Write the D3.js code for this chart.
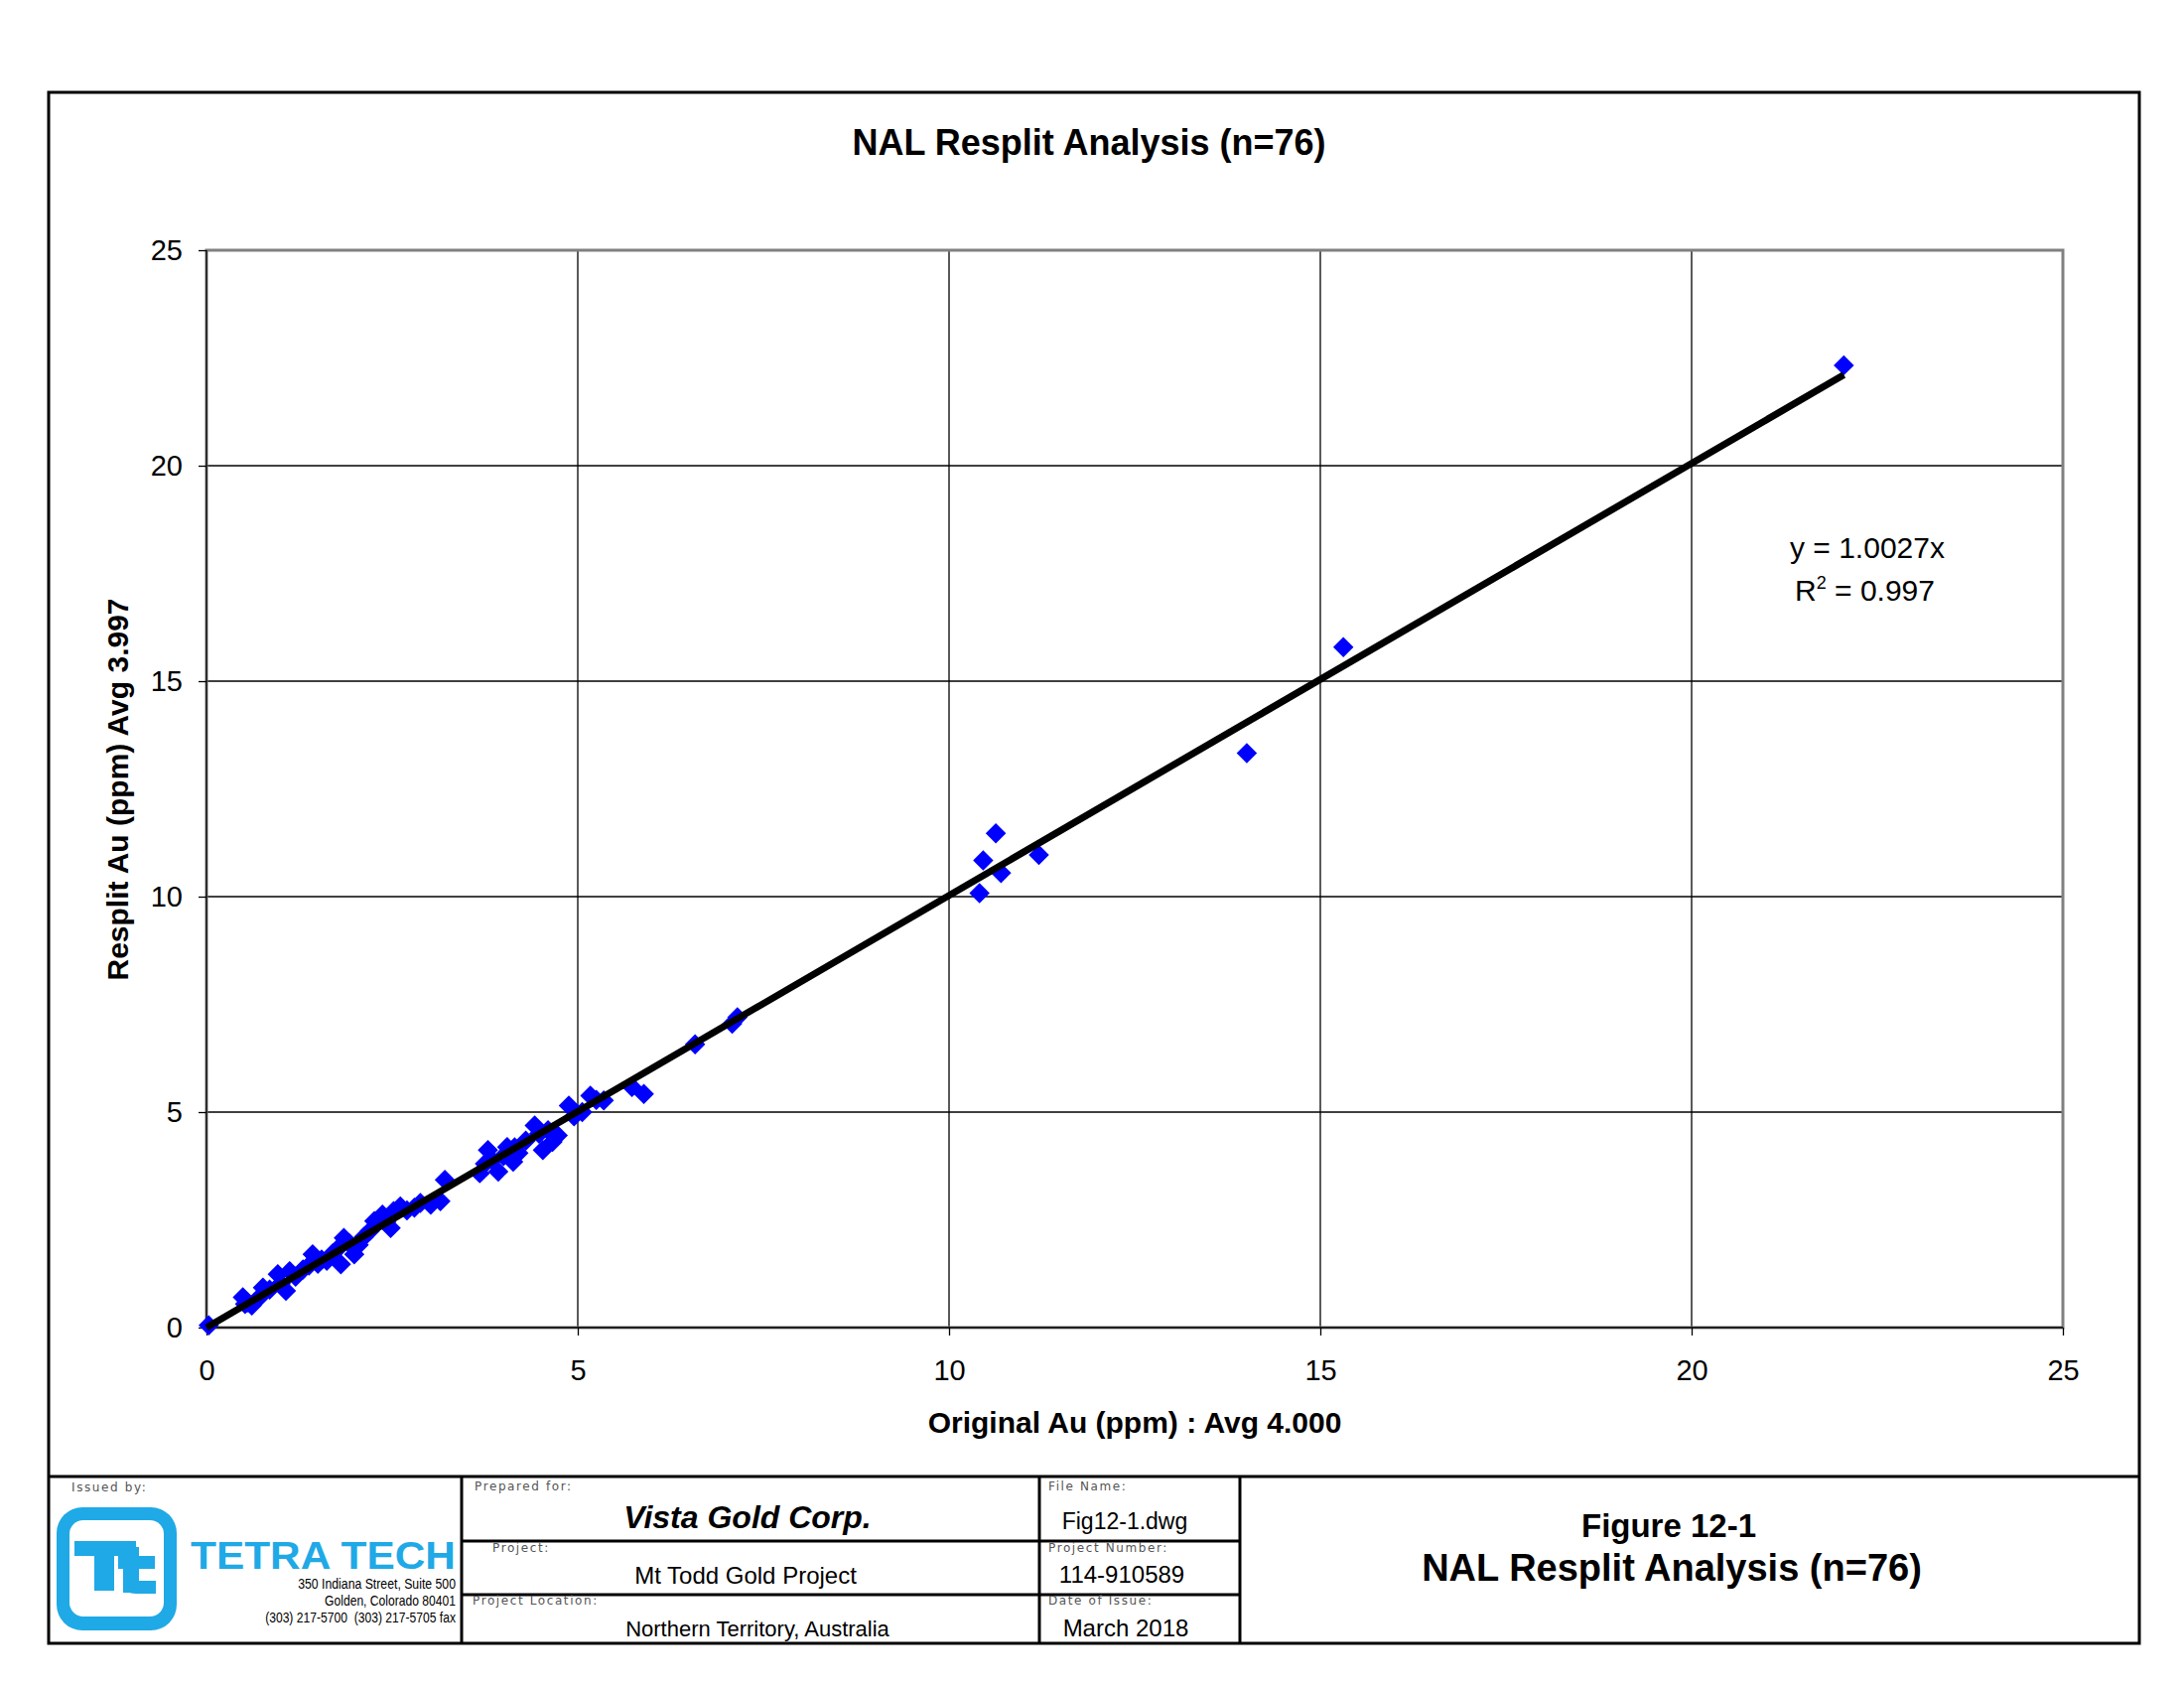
<!DOCTYPE html>
<html>
<head>
<meta charset="utf-8">
<script src="https://cdn.jsdelivr.net/npm/d3@7"></script>
<style>
  body { margin: 0; background: #fff; }
  svg { display: block; font-family: "Liberation Sans", Arial, sans-serif; }
  .lbl { font-family: "DejaVu Sans", sans-serif; font-size: 12px; fill: #555; letter-spacing: 1.6px; }
</style>
</head>
<body>
<svg id="chart" width="2200" height="1700"></svg>
<script>
//page size
const SVG_WIDTH = 2200;
const SVG_HEIGHT = 1700;

//original Au (ppm) for each of the 76 resplit pairs
var original = [0.03, 0.49, 0.61, 0.76, 0.96, 1.07, 1.12, 1.43, 1.50, 1.62,
                1.81, 1.85, 1.99, 2.05, 2.26, 2.37, 2.48, 2.52, 2.61, 2.88,
                3.02, 3.15, 3.21, 3.68, 3.79, 3.93, 4.05, 4.13, 4.20, 4.42,
                4.53, 4.66, 4.73, 4.88, 5.06, 5.17, 5.35, 5.73, 5.89, 6.58,
                7.08, 7.15, 10.41, 10.46, 10.63, 10.70, 11.21, 14.01, 15.31, 22.05,
                0.52, 0.55, 0.70, 0.85, 1.00, 1.20, 1.30, 1.38, 1.55, 1.70,
                1.75, 1.92, 2.12, 2.20, 2.42, 2.70, 2.80, 3.75, 3.85, 4.00,
                4.15, 4.30, 4.48, 4.60, 4.95, 5.25];
//resplit Au (ppm), same order
var resplit = [0.05, 0.70, 0.51, 0.93, 1.24, 0.85, 1.31, 1.70, 1.48, 1.55,
               1.47, 2.08, 1.70, 1.92, 2.47, 2.62, 2.31, 2.70, 2.81, 2.89,
               2.85, 2.93, 3.43, 3.58, 4.12, 3.62, 4.19, 3.85, 4.05, 4.69,
               4.12, 4.31, 4.46, 5.15, 5.00, 5.38, 5.27, 5.58, 5.42, 6.57,
               7.05, 7.20, 10.08, 10.84, 11.47, 10.55, 10.97, 13.33, 15.79, 22.33,
               0.55, 0.58, 0.68, 0.88, 1.02, 1.18, 1.35, 1.44, 1.58, 1.72,
               1.80, 1.96, 2.10, 2.24, 2.45, 2.72, 2.78, 3.80, 3.88, 3.98,
               4.18, 4.34, 4.50, 4.58, 4.90, 5.28];
//axis ticks and the linear trend through the origin
var ticks = [0, 5, 10, 15, 20, 25];
var slope = 1.0027;
var rSquared = '0.997';

var svg = d3.select('#chart');

//outer drawing frame
svg.append('rect')
   .attr('x', 49).attr('y', 93)
   .attr('width', 2106).attr('height', 1562)
   .attr('fill', 'none').attr('stroke', '#000').attr('stroke-width', 3);

//scales
var x = d3.scaleLinear().domain([0, 25]).range([208, 2078]);
var y = d3.scaleLinear().domain([0, 25]).range([1337, 252]);

//gridlines
svg.append('g').selectAll('line')
   .data(ticks.slice(1, -1))
   .enter().append('line')
   .attr('x1', function(d) { return x(d); }).attr('x2', function(d) { return x(d); })
   .attr('y1', y(0)).attr('y2', y(25))
   .attr('stroke', '#000').attr('stroke-width', 1.3);
svg.append('g').selectAll('line')
   .data(ticks.slice(1, -1))
   .enter().append('line')
   .attr('y1', function(d) { return y(d); }).attr('y2', function(d) { return y(d); })
   .attr('x1', x(0)).attr('x2', x(25))
   .attr('stroke', '#000').attr('stroke-width', 1.3);

//plot area border (grey) and axis lines (black)
svg.append('rect')
   .attr('x', x(0)).attr('y', y(25))
   .attr('width', x(25) - x(0)).attr('height', y(0) - y(25))
   .attr('fill', 'none').attr('stroke', '#808080').attr('stroke-width', 3);
svg.append('line')
   .attr('x1', x(0)).attr('x2', x(0)).attr('y1', y(0)).attr('y2', y(25))
   .attr('stroke', '#000').attr('stroke-width', 1.3);
svg.append('line')
   .attr('x1', x(0)).attr('x2', x(25)).attr('y1', y(0)).attr('y2', y(0))
   .attr('stroke', '#000').attr('stroke-width', 1.3);

//axes
var xAxis = svg.append('g')
   .attr('transform', 'translate(0,' + y(0) + ')')
   .call(d3.axisBottom(x).tickValues(ticks).tickSize(8).tickPadding(24).tickFormat(d3.format('d')));
var yAxis = svg.append('g')
   .attr('transform', 'translate(' + x(0) + ',0)')
   .call(d3.axisLeft(y).tickValues(ticks).tickSize(8).tickPadding(16).tickFormat(d3.format('d')));
[xAxis, yAxis].forEach(function(a) {
    a.select('.domain').remove();
    a.selectAll('.tick line').attr('stroke', '#000').attr('stroke-width', 1.3);
    a.selectAll('.tick text')
     .attr('font-family', '"Liberation Sans", Arial, sans-serif')
     .attr('font-size', 29).attr('fill', '#000');
});

//data points as blue diamonds
var points = original.map(function(v, i) { return {x: v, y: resplit[i]}; });
svg.append('g').selectAll('path')
   .data(points)
   .enter().append('path')
   .attr('d', d3.symbol().type(d3.symbolSquare).size(210))
   .attr('transform', function(d) { return 'translate(' + x(d.x) + ',' + y(d.y) + ') rotate(45)'; })
   .attr('fill', '#0000ff');

//linear trendline, drawn from 0 to the largest original value
var xMax = d3.max(original);
var line = d3.line()
   .x(function(d) { return x(d); })
   .y(function(d) { return y(slope * d); });
svg.append('path')
   .attr('d', line([0, xMax]))
   .attr('stroke', '#000').attr('stroke-width', 7).attr('fill', 'none');

//trendline equation
svg.append('text')
   .attr('x', 1803).attr('y', 562)
   .attr('font-size', 30)
   .text('y = ' + slope + 'x');
var r2 = svg.append('text')
   .attr('x', 1808).attr('y', 605)
   .attr('font-size', 30);
r2.append('tspan').text('R');
r2.append('tspan').attr('font-size', 18).attr('dy', -12).text('2');
r2.append('tspan').attr('dy', 12).text(' = ' + rSquared);

//chart title and axis titles
svg.append('text')
   .attr('x', 1097).attr('y', 156)
   .attr('text-anchor', 'middle').attr('font-size', 36).attr('font-weight', 'bold')
   .text('NAL Resplit Analysis (n=76)');
svg.append('text')
   .attr('x', 1143).attr('y', 1443)
   .attr('text-anchor', 'middle').attr('font-size', 30).attr('font-weight', 'bold')
   .text('Original Au (ppm) : Avg 4.000');
svg.append('text')
   .attr('transform', 'translate(129,795) rotate(-90)')
   .attr('text-anchor', 'middle').attr('font-size', 30).attr('font-weight', 'bold')
   .text('Resplit Au (ppm) Avg 3.997');

//title block
add_title_block();

function add_title_block() {
    var tb = svg.append('g');
    tb.append('line').attr('x1', 49).attr('x2', 2155).attr('y1', 1487).attr('y2', 1487)
      .attr('stroke', '#000').attr('stroke-width', 3);
    [465, 1047, 1249].forEach(function(cx) {
        tb.append('line').attr('x1', cx).attr('x2', cx).attr('y1', 1487).attr('y2', 1655)
          .attr('stroke', '#000').attr('stroke-width', 3);
    });
    [1552, 1606].forEach(function(cy) {
        tb.append('line').attr('x1', 465).attr('x2', 1249).attr('y1', cy).attr('y2', cy)
          .attr('stroke', '#000').attr('stroke-width', 3);
    });

    //small field labels
    var labels = [['Issued by:', 72, 1502], ['Prepared for:', 478, 1501], ['Project:', 496, 1563],
                  ['Project Location:', 476, 1616], ['File Name:', 1056, 1501],
                  ['Project Number:', 1056, 1563], ['Date of Issue:', 1056, 1616]];
    labels.forEach(function(l) {
        tb.append('text').attr('class', 'lbl').attr('x', l[1]).attr('y', l[2]).text(l[0]);
    });

    //logo
    var blue = '#1fa9e6';
    tb.append('rect').attr('x', 57).attr('y', 1518).attr('width', 121).attr('height', 124)
      .attr('rx', 26).attr('fill', blue);
    tb.append('rect').attr('x', 70).attr('y', 1531).attr('width', 95).attr('height', 97)
      .attr('rx', 14).attr('fill', '#fff');
    tb.append('rect').attr('x', 75).attr('y', 1552).attr('width', 62).attr('height', 15).attr('fill', blue);
    tb.append('rect').attr('x', 95).attr('y', 1552).attr('width', 20).attr('height', 50).attr('fill', blue);
    tb.append('rect').attr('x', 124).attr('y', 1558).attr('width', 16).attr('height', 46).attr('fill', blue);
    tb.append('rect').attr('x', 119).attr('y', 1567).attr('width', 37).attr('height', 13).attr('fill', blue);
    tb.append('path').attr('d', 'M124,1592 L157,1592 L157,1605 L137,1605 Q124,1605 124,1594 Z').attr('fill', blue);

    tb.append('text').attr('x', 192).attr('y', 1580)
      .attr('font-size', 39).attr('font-weight', 'bold').attr('fill', blue)
      .attr('textLength', 267).attr('lengthAdjust', 'spacingAndGlyphs')
      .text('TETRA TECH');

    //condensed address lines, right aligned against the logo column edge
    var addr = [['350 Indiana Street, Suite 500', 1600, 159],
                ['Golden, Colorado 80401', 1617, 132],
                ['(303) 217-5700\u00a0\u00a0(303) 217-5705 fax', 1634, 192]];
    addr.forEach(function(a) {
        var t = tb.append('text').attr('font-size', 15).attr('text-anchor', 'end').text(a[0]);
        var w = t.node().getComputedTextLength();
        t.attr('transform', 'translate(459,' + a[1] + ') scale(' + (a[2] / w) + ',1)');
    });

    //field values
    tb.append('text').attr('x', 753).attr('y', 1539)
      .attr('text-anchor', 'middle').attr('font-size', 32)
      .attr('font-weight', 'bold').attr('font-style', 'italic')
      .text('Vista Gold Corp.');
    tb.append('text').attr('x', 751).attr('y', 1595)
      .attr('text-anchor', 'middle').attr('font-size', 24).text('Mt Todd Gold Project');
    tb.append('text').attr('x', 763).attr('y', 1648)
      .attr('text-anchor', 'middle').attr('font-size', 22).text('Northern Territory, Australia');
    tb.append('text').attr('x', 1133).attr('y', 1540)
      .attr('text-anchor', 'middle').attr('font-size', 23).text('Fig12-1.dwg');
    tb.append('text').attr('x', 1130).attr('y', 1594)
      .attr('text-anchor', 'middle').attr('font-size', 24).text('114-910589');
    tb.append('text').attr('x', 1134).attr('y', 1648)
      .attr('text-anchor', 'middle').attr('font-size', 24).text('March 2018');

    //figure caption
    tb.append('text').attr('x', 1681).attr('y', 1548)
      .attr('text-anchor', 'middle').attr('font-size', 33).attr('font-weight', 'bold')
      .text('Figure 12-1');
    tb.append('text').attr('x', 1684).attr('y', 1592)
      .attr('text-anchor', 'middle').attr('font-size', 38).attr('font-weight', 'bold')
      .text('NAL Resplit Analysis (n=76)');
}
</script>
</body>
</html>
